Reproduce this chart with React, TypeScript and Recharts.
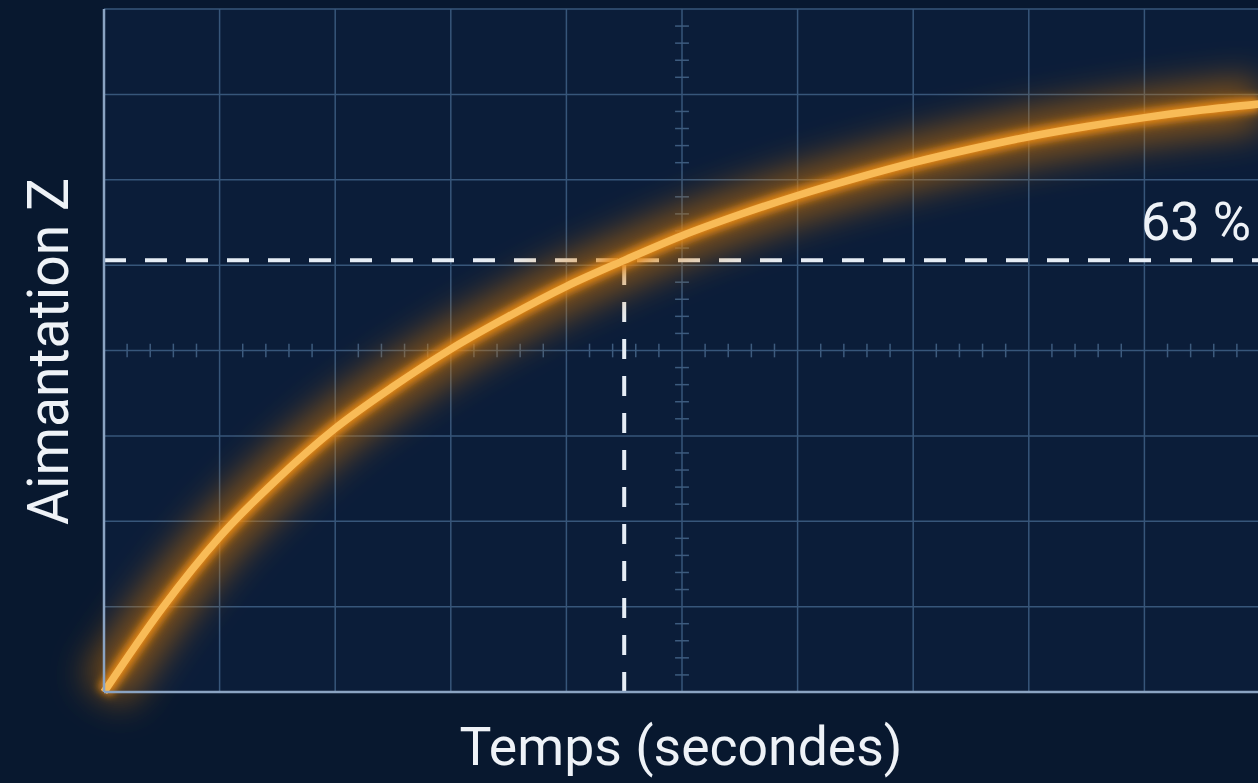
import React from 'react';
import { LineChart, Line, XAxis, YAxis, CartesianGrid, ReferenceLine } from 'recharts';

// Time (seconds) and magnetization (% of max)
const times = [0, 0.5, 1, 1.5, 2, 2.5, 3, 3.5, 4, 4.5, 5, 5.5, 6, 6.5, 7, 7.5, 8, 8.5, 9, 9.5, 10];
const magnetization = [0, 12.2, 22.7, 31.2, 38.6, 44.7, 50.2, 55.0, 59.4, 63.2, 66.8, 69.9, 72.7, 75.2, 77.5, 79.5, 81.3, 82.8, 84.1, 85.2, 86.1];

const xTicks = [0, 1, 2, 3, 4, 5, 6, 7, 8, 9, 10];
const yTicks = [0, 12.5, 25, 37.5, 50, 62.5, 75, 87.5, 100];

const tauTime = 4.5;
const tauLevel = 63.2;
const tauLabel = '63 %';
const xLabel = 'Temps (secondes)';
const yLabel = 'Aimantation Z';

const centerT = 5;
const centerM = 50;
const minorAlongX = Array.from({ length: 49 }, (_, i) => (i + 1) * 0.2).filter((v) => Math.abs(v - Math.round(v)) > 0.01);
const minorAlongY = Array.from({ length: 39 }, (_, i) => (i + 1) * 2.5).filter((v) => Math.abs(v / 12.5 - Math.round(v / 12.5)) > 0.01);

const data = times.map((t, i) => ({ t, m: magnetization[i] }));

const FONT = 'Roboto, "Noto Sans", sans-serif';
const GRID = '#37567a';
const AXIS = '#8aa3c2';
const MINOR = '#3d5b7e';

const NoTick = () => <g />;

export default function App() {
  return (
    <div style={{ position: 'absolute', left: 0, top: 0, width: 1258, height: 783, overflow: 'hidden', background: '#08182f' }}>
      <LineChart width={1262} height={783} data={data} margin={{ top: 9, right: 2, bottom: 0, left: 0 }}>
        <defs>
          <filter id="glowBig" filterUnits="userSpaceOnUse" x="0" y="0" width="1262" height="783">
            <feGaussianBlur stdDeviation="18" />
          </filter>
          <filter id="glowSmall" filterUnits="userSpaceOnUse" x="0" y="0" width="1262" height="783">
            <feGaussianBlur stdDeviation="4" />
          </filter>
        </defs>
        <CartesianGrid stroke={GRID} strokeWidth={1.5} fill="#0b1d39" fillOpacity={1} />
        <XAxis
          type="number"
          dataKey="t"
          domain={[0, 10]}
          ticks={xTicks}
          tick={NoTick}
          tickLine={false}
          axisLine={{ stroke: AXIS, strokeWidth: 2.5 }}
          height={91}
          label={{
            value: xLabel,
            content: (p: any) => {
              const vb = p.viewBox || {};
              return (
                <text x={vb.x + vb.width / 2 - 1} y={vb.y + 73} textAnchor="middle" fill="#eef2f7" fontFamily={FONT} fontSize={53} textLength={443} lengthAdjust="spacingAndGlyphs">
                  {xLabel}
                </text>
              );
            },
          }}
        />
        <YAxis
          type="number"
          domain={[0, 100]}
          ticks={yTicks}
          tick={NoTick}
          tickLine={false}
          axisLine={{ stroke: AXIS, strokeWidth: 2.5 }}
          width={104}
          label={{
            value: yLabel,
            content: (p: any) => {
              const vb = p.viewBox || {};
              const cx = vb.x + 68;
              const cy = vb.y + vb.height / 2 + 1;
              return (
                <text x={cx} y={cy} transform={`rotate(-90 ${cx} ${cy})`} textAnchor="middle" fill="#eef2f7" fontFamily={FONT} fontSize={58} textLength={347} lengthAdjust="spacingAndGlyphs">
                  {yLabel}
                </text>
              );
            },
          }}
        />
        {minorAlongY.map((v) => (
          <ReferenceLine key={'my' + v} segment={[{ x: centerT - 0.06, y: v }, { x: centerT + 0.06, y: v }]} stroke={MINOR} strokeWidth={1.5} />
        ))}
        {minorAlongX.map((v) => (
          <ReferenceLine key={'mx' + v} segment={[{ x: v, y: centerM - 1 }, { x: v, y: centerM + 1 }]} stroke={MINOR} strokeWidth={1.5} />
        ))}
        <ReferenceLine
          y={tauLevel}
          stroke="#e6edf5"
          strokeWidth={4}
          strokeDasharray="22 19"
          label={{
            value: tauLabel,
            content: (p: any) => {
              const vb = p.viewBox || {};
              return (
                <text x={vb.x + vb.width - 9} y={vb.y - 20} textAnchor="end" fill="#eef2f7" fontFamily={FONT} fontSize={54} textLength={110} lengthAdjust="spacingAndGlyphs">
                  {tauLabel}
                </text>
              );
            },
          }}
        />
        <ReferenceLine segment={[{ x: tauTime, y: 0 }, { x: tauTime, y: tauLevel }]} stroke="#e6edf5" strokeWidth={4} strokeDasharray="20 17" />
        <Line type="monotone" dataKey="m" stroke="#d9780a" strokeWidth={50} strokeOpacity={0.6} dot={false} activeDot={false} filter="url(#glowBig)" isAnimationActive={false} />
        <Line type="monotone" dataKey="m" stroke="#e88a16" strokeWidth={15} dot={false} activeDot={false} filter="url(#glowSmall)" isAnimationActive={false} />
        <Line type="monotone" dataKey="m" stroke="#f8bb57" strokeWidth={7.5} dot={false} activeDot={false} isAnimationActive={false} />
      </LineChart>
    </div>
  );
}
